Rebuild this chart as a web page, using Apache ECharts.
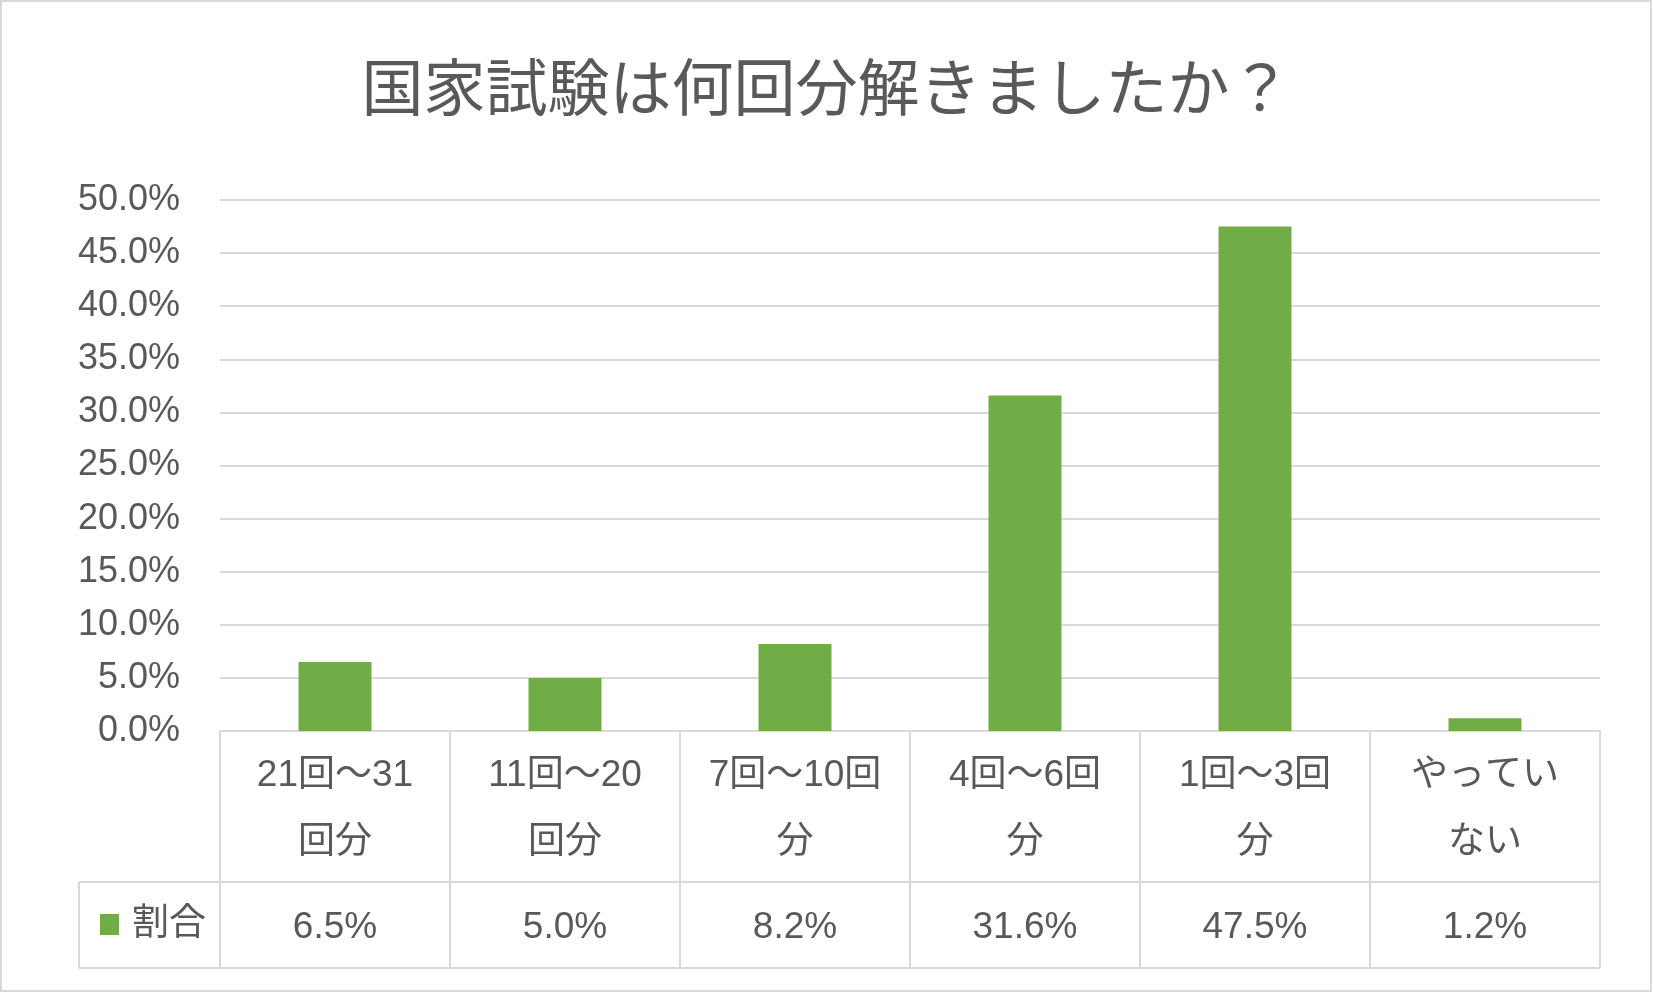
<!DOCTYPE html>
<html>
<head>
<meta charset="utf-8">
<script src="https://cdn.jsdelivr.net/npm/echarts@6/dist/echarts.min.js"></script>
<style>
  html, body { margin: 0; padding: 0; background: #fff; }
  #main { width: 1653px; height: 993px; }
</style>
</head>
<body>
<div id="main"></div>
<script>
// データ
var titleText = '国家試験は何回分解きましたか？';
var seriesName = '割合';
var categories = ['21回～31\n回分', '11回～20\n回分', '7回～10回\n分', '4回～6回\n分', '1回～3回\n分', 'やってい\nない'];
var values = [6.5, 5.0, 8.2, 31.6, 47.5, 1.2];
var yMin = 0, yMax = 50, yStep = 5;

// レイアウト
var W = 1653, H = 993;
var gridLeft = 220, gridRight = 53, gridTop = 200, gridBottom = 262;
var tableLeft = 79, rowSplit = 882, tableBottom = 968;
var textColor = '#595959', lineColor = '#d9d9d9', barColor = '#70ad47';
var fontFamily = '"Liberation Sans", "Noto Sans CJK JP", sans-serif';

var myChart = echarts.init(document.getElementById('main'));
var axisY = H - gridBottom;

var option = {
    backgroundColor: '#fff',
    animation: false,
    title: {
        text: titleText,
        left: 'center',
        top: 51,
        padding: [5, 20, 5, 0],
        textStyle: { color: textColor, fontSize: 62, fontWeight: 'normal', fontFamily: '"Noto Sans CJK JP", sans-serif' }
    },
    legend: {
        data: [{ name: seriesName, icon: 'rect' }],
        left: 95,
        top: 901,
        itemWidth: 19,
        itemHeight: 21,
        textStyle: { color: textColor, fontSize: 37, fontFamily: fontFamily, padding: [0, 0, 0, 8] }
    },
    grid: { left: gridLeft, right: gridRight, top: gridTop, bottom: gridBottom, containLabel: false },
    xAxis: [{
        type: 'category',
        data: categories,
        position: 'bottom',
        axisLine: { show: true, lineStyle: { color: lineColor, width: 2 } },
        axisTick: { show: true, length: tableBottom - axisY, lineStyle: { color: lineColor, width: 2 } },
        axisLabel: { interval: 0, margin: 11, color: textColor, fontSize: 37, lineHeight: 67, fontFamily: fontFamily }
    }, {
        type: 'category',
        data: categories,
        position: 'bottom',
        offset: rowSplit - axisY,
        axisLine: { show: false },
        axisTick: { show: false },
        axisLabel: {
            interval: 0, margin: 26, color: textColor, fontSize: 37, lineHeight: 40, fontFamily: fontFamily,
            formatter: function (v, i) { return values[i].toFixed(1) + '%'; }
        }
    }],
    yAxis: {
        type: 'value',
        min: yMin,
        max: yMax,
        interval: yStep,
        axisLine: { show: false },
        axisTick: { show: false },
        splitLine: { lineStyle: { color: lineColor, width: 2 } },
        axisLabel: {
            margin: 40, color: textColor, fontSize: 36, fontFamily: fontFamily,
            formatter: function (v) { return v.toFixed(1) + '%'; }
        }
    },
    series: [{
        name: seriesName,
        type: 'bar',
        data: values,
        barWidth: 73,
        itemStyle: { color: barColor },
        z: 3
    }],
    graphic: [
        // 外枠
        { type: 'rect', shape: { x: 1, y: 1, width: W - 3, height: H - 3 }, style: { fill: 'none', stroke: lineColor, lineWidth: 2 }, silent: true },
        // データテーブルの横線・左端
        { type: 'line', shape: { x1: tableLeft, y1: rowSplit, x2: W - gridRight, y2: rowSplit }, style: { stroke: lineColor, lineWidth: 2 }, silent: true },
        { type: 'line', shape: { x1: tableLeft, y1: tableBottom, x2: W - gridRight, y2: tableBottom }, style: { stroke: lineColor, lineWidth: 2 }, silent: true },
        { type: 'line', shape: { x1: tableLeft, y1: rowSplit, x2: tableLeft, y2: tableBottom }, style: { stroke: lineColor, lineWidth: 2 }, silent: true }
    ]
};
myChart.setOption(option);
</script>
</body>
</html>
